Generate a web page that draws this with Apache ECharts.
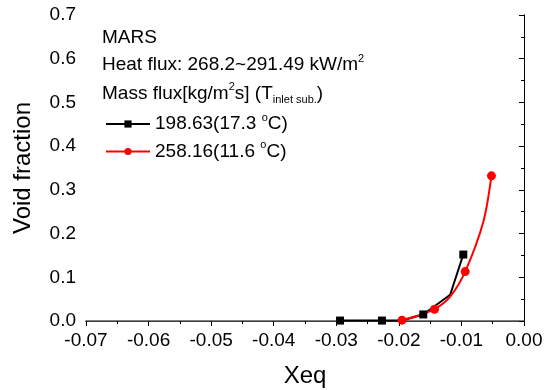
<!DOCTYPE html>
<html><head><meta charset="utf-8">
<script src="https://cdn.jsdelivr.net/npm/echarts@6/dist/echarts.min.js"></script>
<style>html,body{margin:0;padding:0;background:#fff}#c{width:547px;height:390px}</style>
</head><body><div id="c"></div>
<script>
const xTicks = [-0.07, -0.06, -0.05, -0.04, -0.03, -0.02, -0.01, 0.00];
const yTicks = [0.0, 0.1, 0.2, 0.3, 0.4, 0.5, 0.6, 0.7];
const seriesNames = ['198.63(17.3 ', '258.16(11.6 '];
const blackX = [-0.0294, -0.0227, -0.0195, -0.0161, -0.0118, -0.0097];
const blackY = [0.001, 0.001, 0.001, 0.015, 0.060, 0.152];
const blackMarker = [1, 1, 0, 1, 0, 1];
const redX = [-0.0195, -0.0170, -0.0143, -0.0118, -0.0094, -0.0065, -0.0052];
const redY = [0.002, 0.012, 0.027, 0.056, 0.113, 0.227, 0.332];
const redMarker = [1, 0, 1, 0, 1, 0, 1];

const FONT = 'Liberation Sans, Arial, sans-serif';
const FS = 19;
const chart = echarts.init(document.getElementById('c'));
const pair = (xs, ys) => xs.map((x, i) => [x, ys[i]]);
const richText = {
  sup: { fontSize: 11, fontFamily: FONT, color: '#000', verticalAlign: 'top', lineHeight: 11 },
  sub: { fontSize: 11, fontFamily: FONT, color: '#000', verticalAlign: 'bottom', lineHeight: 11 },
  n: { fontSize: FS, fontFamily: FONT, color: '#000', lineHeight: 24 }
};
const legendBase = {
  orient: 'vertical', left: 100, itemWidth: 44, itemHeight: 9, itemGap: 0,
  textStyle: { fontSize: FS, fontFamily: FONT, color: '#000', rich: richText },
  formatter: name => '{n|' + name + '}{sup|o}{n|C)}'
};
chart.setOption({
  animation: false,
  grid: { left: 86, right: 23, top: 15, bottom: 69, outerBoundsMode: 'none', containLabel: false },
  xAxis: [{
    type: 'value', min: xTicks[0], max: xTicks[xTicks.length - 1], interval: 0.01,
    name: 'Xeq', nameLocation: 'middle', nameGap: 43,
    nameTextStyle: { fontSize: 24, fontFamily: FONT, color: '#000' },
    axisLine: { lineStyle: { color: '#000', width: 1 } },
    axisTick: { inside: false, length: 5, lineStyle: { color: '#000' } },
    minorTick: { show: true, splitNumber: 2, length: 3, lineStyle: { color: '#000' } },
    splitLine: { show: false },
    axisLabel: { fontSize: FS, fontFamily: FONT, color: '#000', margin: 10,
      formatter: v => v.toFixed(2) }
  }, {
    type: 'value', position: 'top', min: xTicks[0], max: xTicks[xTicks.length - 1],
    axisLine: { show: true, lineStyle: { color: '#555', width: 1.5 } },
    axisTick: { show: false }, axisLabel: { show: false }, splitLine: { show: false }
  }],
  yAxis: [{
    type: 'value', min: yTicks[0], max: yTicks[yTicks.length - 1], interval: 0.1,
    name: 'Void fraction', nameLocation: 'middle', nameGap: 51,
    nameTextStyle: { fontSize: 24, fontFamily: FONT, color: '#000' },
    axisLine: { show: true, lineStyle: { color: '#000', width: 1 } },
    axisTick: { inside: false, length: 5, lineStyle: { color: '#000' } },
    minorTick: { show: true, splitNumber: 2, length: 3, lineStyle: { color: '#000' } },
    splitLine: { show: false },
    axisLabel: { fontSize: FS, fontFamily: FONT, color: '#000', margin: 10,
      formatter: v => v.toFixed(1) }
  }, {
    type: 'value', position: 'right', min: yTicks[0], max: yTicks[yTicks.length - 1], interval: 0.1,
    axisLine: { show: true, lineStyle: { color: '#000', width: 1 } },
    axisTick: { inside: true, length: 5, lineStyle: { color: '#000' } },
    minorTick: { show: true, splitNumber: 2, length: 3, lineStyle: { color: '#000' } },
    axisLabel: { show: false }, splitLine: { show: false }
  }],
  legend: [
    Object.assign({}, legendBase, { top: 107, data: [seriesNames[0]] }),
    Object.assign({}, legendBase, { top: 134.5, data: [seriesNames[1]] })
  ],
  graphic: [
    { type: 'text', x: 102, y: 37.5, style: { text: 'MARS', font: FS + 'px ' + FONT, fill: '#000', verticalAlign: 'middle' } },
    { type: 'text', x: 102, y: 65, style: { text: '{n|Heat flux: 268.2~291.49 kW/m}{sup|2}', rich: richText, verticalAlign: 'middle' } },
    { type: 'text', x: 102, y: 93.5, style: { text: '{n|Mass flux[kg/m}{sup|2}{n|s] (T}{sub|inlet sub.}{n|)}', rich: richText, verticalAlign: 'middle' } }
  ],
  series: [{
    name: seriesNames[0], type: 'line', data: pair(blackX, blackY),
    color: '#000', lineStyle: { width: 2, color: '#000' },
    symbol: 'rect', symbolSize: (v, p) => blackMarker[p.dataIndex] ? 8 : 0,
    itemStyle: { color: '#000' }
  }, {
    name: seriesNames[1], type: 'line', data: pair(redX, redY), smooth: 0.3,
    color: '#f00', lineStyle: { width: 2, color: '#f00' },
    symbol: 'circle', symbolSize: (v, p) => redMarker[p.dataIndex] ? 9 : 0,
    itemStyle: { color: '#f00' }
  }]
});
</script></body></html>
